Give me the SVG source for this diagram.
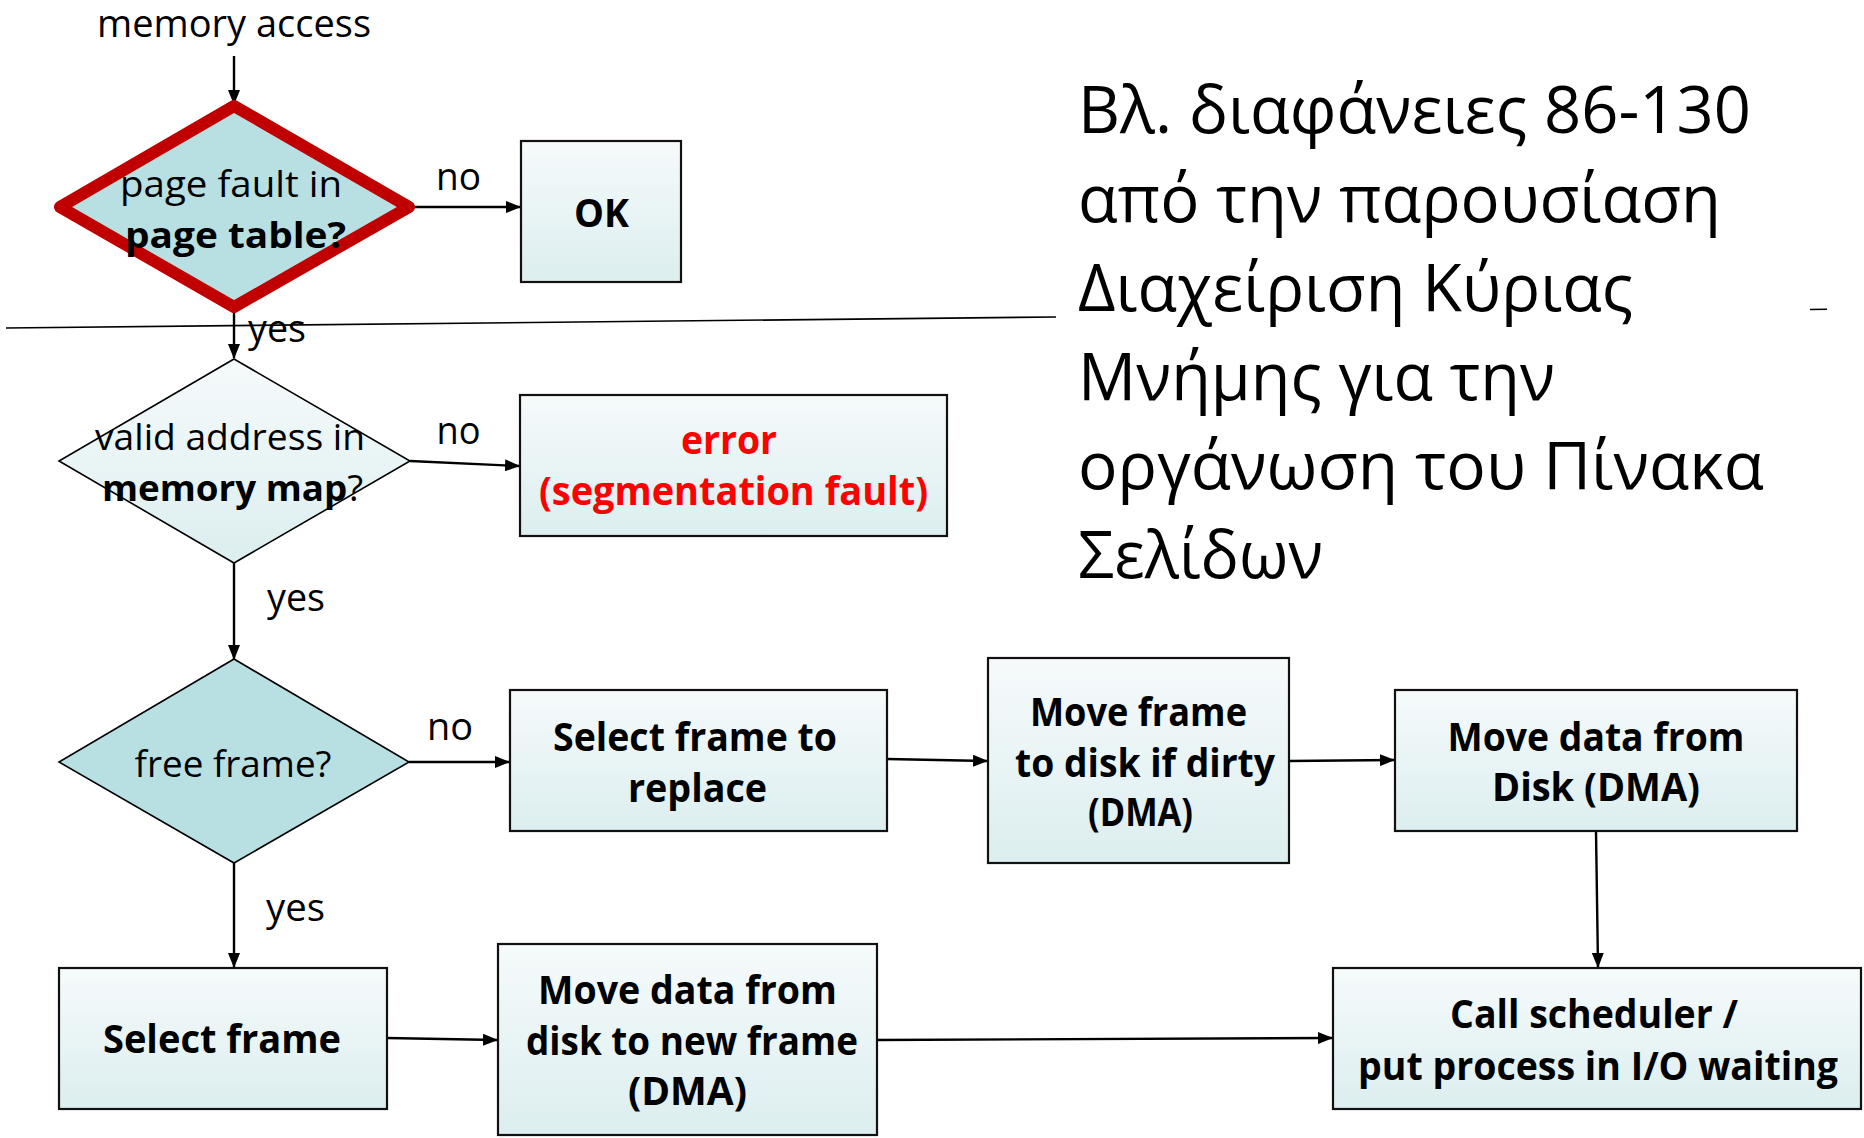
<svg xmlns="http://www.w3.org/2000/svg" width="1864" height="1138" viewBox="0 0 1864 1138">
  <defs>
    <linearGradient id="boxFill" x1="0" y1="0" x2="0" y2="1">
      <stop offset="0" stop-color="#F6FAFB"/>
      <stop offset="1" stop-color="#DCEEEF"/>
    </linearGradient>
    <marker id="arrow" markerWidth="15" markerHeight="12" refX="14" refY="6" orient="auto" markerUnits="userSpaceOnUse">
      <path d="M0,0 L15,6 L0,12 Z" fill="#000"/>
    </marker>
    <style>
      text { font-family: "Open Sans", "Noto Sans", "DejaVu Sans", sans-serif; fill: #000; }
      .lbl { font-size: 39px; }
      .dtxt { font-size: 36px; }
      .btxt { font-size: 39px; font-weight: bold; }
      .err { fill: #FF0000; }
      .greek { font-size: 65px; }
      .box { fill: url(#boxFill); stroke: #111; stroke-width: 2.2; }
      .dia { stroke: #000; stroke-width: 1.6; stroke-linejoin: miter; }
      .conn { fill: none; stroke: #000; stroke-width: 2.4; marker-end: url(#arrow); }
      .rule { fill: none; stroke: #000; stroke-width: 1.6; }
    </style>
  </defs>

  <rect width="1864" height="1138" fill="#FFFFFF"/>

  <!-- thin horizontal rule crossing the page -->
  <g id="rule">
    <line class="rule" x1="6" y1="328" x2="1056" y2="317"/>
    <line class="rule" x1="1810" y1="309.5" x2="1827" y2="309.3"/>
  </g>

  <!-- connectors -->
  <g id="connectors">
    <line class="conn" x1="234" y1="56" x2="234" y2="104"/>
    <line class="conn" x1="409" y1="207" x2="520" y2="207"/>
    <line class="conn" x1="234" y1="307" x2="234" y2="358"/>
    <line class="conn" x1="410" y1="461" x2="519" y2="466"/>
    <line class="conn" x1="234" y1="563" x2="234" y2="659"/>
    <line class="conn" x1="409" y1="762" x2="509" y2="762"/>
    <line class="conn" x1="234" y1="863" x2="234" y2="967"/>
    <line class="conn" x1="887" y1="759" x2="987" y2="761"/>
    <line class="conn" x1="1289" y1="761" x2="1394" y2="760"/>
    <line class="conn" x1="1596" y1="831" x2="1598" y2="967"/>
    <line class="conn" x1="387" y1="1038" x2="497" y2="1040"/>
    <line class="conn" x1="877" y1="1040" x2="1332" y2="1038"/>
  </g>

  <!-- entry label -->
  <g id="start">
    <text class="lbl" x="234" y="37" text-anchor="middle" textLength="274" lengthAdjust="spacingAndGlyphs">memory access</text>
  </g>

  <!-- decision: page fault -->
  <g id="pageFault">
    <path d="M234,106 L409,207 L234,307 L60,207 Z" fill="#B8DFE2" stroke="#C00000" stroke-width="12" stroke-linejoin="round"/>
    <text class="dtxt" x="231" y="197" text-anchor="middle" textLength="222" lengthAdjust="spacingAndGlyphs">page fault in</text>
    <text class="dtxt" x="235.5" y="248" text-anchor="middle" font-weight="bold" textLength="221" lengthAdjust="spacingAndGlyphs">page table?</text>
  </g>

  <g id="ok">
    <rect class="box" x="521" y="141" width="160" height="141"/>
    <text class="btxt" x="601.5" y="227" text-anchor="middle" textLength="55" lengthAdjust="spacingAndGlyphs">OK</text>
  </g>

  <!-- decision: valid address -->
  <g id="validAddress">
    <path class="dia" d="M234,359 L410,461 L234,563 L59,461 Z" fill="url(#boxFill)"/>
    <text class="dtxt" x="230" y="450" text-anchor="middle" textLength="270" lengthAdjust="spacingAndGlyphs">valid address in</text>
    <text class="dtxt" x="232.5" y="501" text-anchor="middle" textLength="261" lengthAdjust="spacingAndGlyphs"><tspan font-weight="bold">memory map</tspan>?</text>
  </g>

  <g id="error">
    <rect class="box" x="520" y="395" width="427" height="141"/>
    <text class="btxt err" x="729" y="454" text-anchor="middle" textLength="96" lengthAdjust="spacingAndGlyphs">error</text>
    <text class="btxt err" x="733.5" y="505" text-anchor="middle" textLength="389" lengthAdjust="spacingAndGlyphs">(segmentation fault)</text>
  </g>

  <!-- decision: free frame -->
  <g id="freeFrame">
    <path class="dia" d="M234,659 L409,762 L234,863 L59,762 Z" fill="#B8DFE2"/>
    <text class="dtxt" x="233" y="777" text-anchor="middle" textLength="197" lengthAdjust="spacingAndGlyphs">free frame?</text>
  </g>

  <g id="selectReplace">
    <rect class="box" x="510" y="690" width="377" height="141"/>
    <text class="btxt" x="695" y="751" text-anchor="middle" textLength="284" lengthAdjust="spacingAndGlyphs">Select frame to</text>
    <text class="btxt" x="697.5" y="802" text-anchor="middle" textLength="139" lengthAdjust="spacingAndGlyphs">replace</text>
  </g>

  <g id="moveFrame">
    <rect class="box" x="988" y="658" width="301" height="205"/>
    <text class="btxt" x="1138.5" y="726" text-anchor="middle" textLength="217" lengthAdjust="spacingAndGlyphs">Move frame</text>
    <text class="btxt" x="1145" y="777" text-anchor="middle" textLength="260" lengthAdjust="spacingAndGlyphs">to disk if dirty</text>
    <text class="btxt" x="1140.5" y="826" text-anchor="middle" textLength="105" lengthAdjust="spacingAndGlyphs">(DMA)</text>
  </g>

  <g id="moveFromDisk">
    <rect class="box" x="1395" y="690" width="402" height="141"/>
    <text class="btxt" x="1596" y="751" text-anchor="middle" textLength="297" lengthAdjust="spacingAndGlyphs">Move data from</text>
    <text class="btxt" x="1596" y="801" text-anchor="middle" textLength="208" lengthAdjust="spacingAndGlyphs">Disk (DMA)</text>
  </g>

  <g id="selectFrame">
    <rect class="box" x="59" y="968" width="328" height="141"/>
    <text class="btxt" x="222" y="1053" text-anchor="middle" textLength="238" lengthAdjust="spacingAndGlyphs">Select frame</text>
  </g>

  <g id="moveToNewFrame">
    <rect class="box" x="498" y="944" width="379" height="191"/>
    <text class="btxt" x="687.5" y="1004" text-anchor="middle" textLength="299" lengthAdjust="spacingAndGlyphs">Move data from</text>
    <text class="btxt" x="692" y="1055" text-anchor="middle" textLength="332" lengthAdjust="spacingAndGlyphs">disk to new frame</text>
    <text class="btxt" x="687.5" y="1105" text-anchor="middle" textLength="119" lengthAdjust="spacingAndGlyphs">(DMA)</text>
  </g>

  <g id="callScheduler">
    <rect class="box" x="1333" y="968" width="528" height="141"/>
    <text class="btxt" x="1594" y="1028" text-anchor="middle" textLength="288" lengthAdjust="spacingAndGlyphs">Call scheduler /</text>
    <text class="btxt" x="1598" y="1080" text-anchor="middle" textLength="480" lengthAdjust="spacingAndGlyphs">put process in I/O waiting</text>
  </g>

  <!-- branch labels -->
  <g id="branchLabels">
    <text class="lbl" x="458.5" y="190" text-anchor="middle" textLength="45" lengthAdjust="spacingAndGlyphs">no</text>
    <text class="lbl" x="277" y="342" text-anchor="middle" textLength="58" lengthAdjust="spacingAndGlyphs">yes</text>
    <text class="lbl" x="458.5" y="444" text-anchor="middle" textLength="44" lengthAdjust="spacingAndGlyphs">no</text>
    <text class="lbl" x="296" y="611" text-anchor="middle" textLength="58" lengthAdjust="spacingAndGlyphs">yes</text>
    <text class="lbl" x="450" y="740" text-anchor="middle" textLength="46" lengthAdjust="spacingAndGlyphs">no</text>
    <text class="lbl" x="295.5" y="921" text-anchor="middle" textLength="59" lengthAdjust="spacingAndGlyphs">yes</text>
  </g>

  <!-- side note -->
  <g id="note">
    <text class="greek" x="1078" y="133" textLength="673" lengthAdjust="spacingAndGlyphs">Βλ. διαφάνειες 86-130</text>
    <text class="greek" x="1078" y="222" textLength="643" lengthAdjust="spacingAndGlyphs">από την παρουσίαση</text>
    <text class="greek" x="1078" y="311" textLength="555" lengthAdjust="spacingAndGlyphs">Διαχείριση Κύριας</text>
    <text class="greek" x="1078" y="400" textLength="477" lengthAdjust="spacingAndGlyphs">Μνήμης για την</text>
    <text class="greek" x="1078" y="489" textLength="686" lengthAdjust="spacingAndGlyphs">οργάνωση του Πίνακα</text>
    <text class="greek" x="1078" y="578" textLength="245" lengthAdjust="spacingAndGlyphs">Σελίδων</text>
  </g>
</svg>
